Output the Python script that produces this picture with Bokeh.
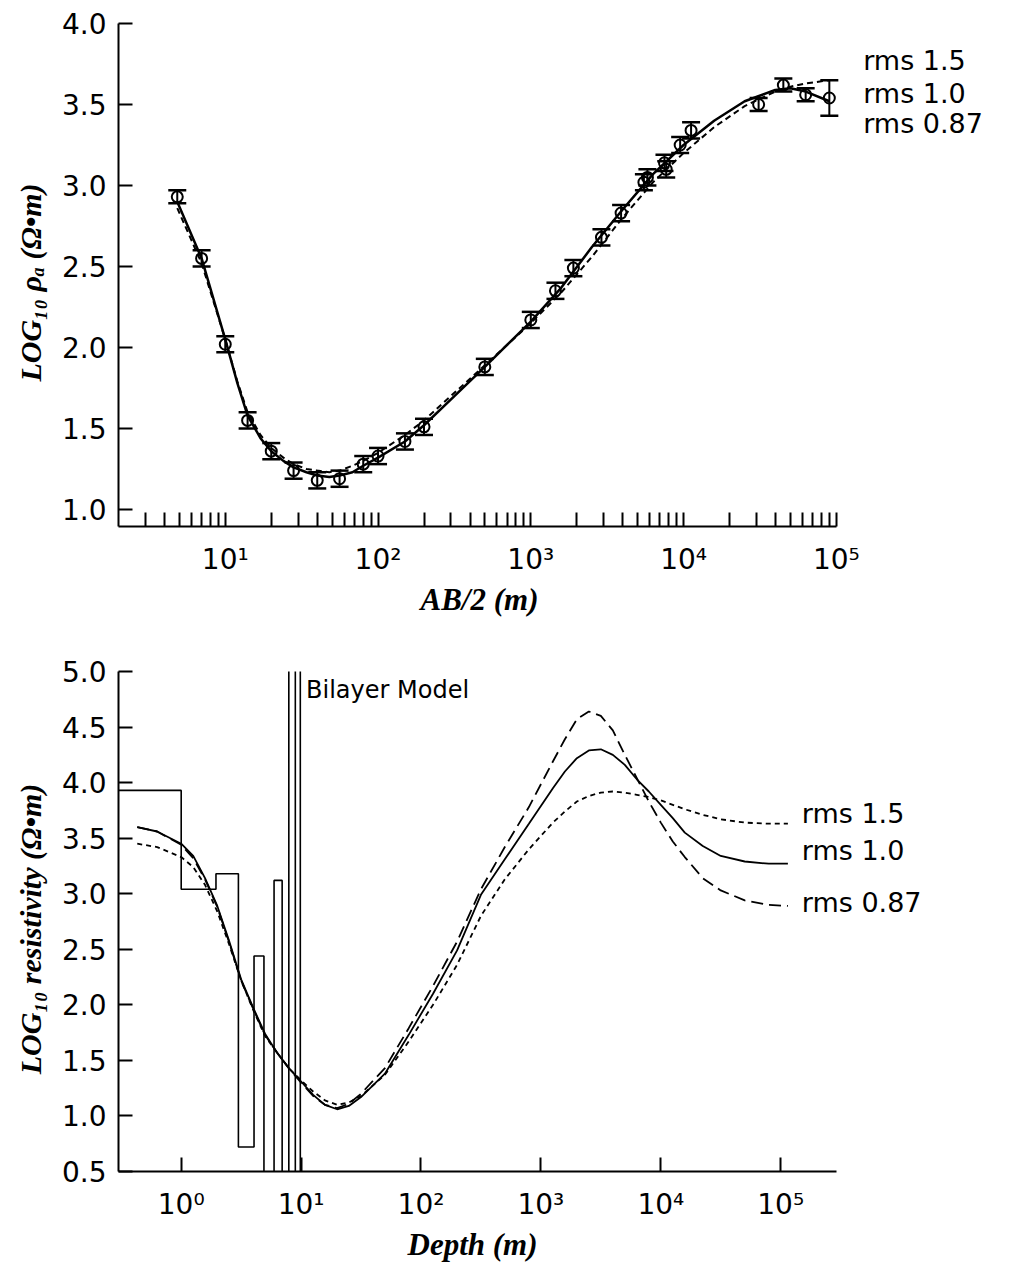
from bokeh.plotting import figure
from bokeh.layouts import column
from bokeh.models import (ColumnDataSource, Whisker, TeeHead, Label, Range1d, Title,
                          FixedTicker, PrintfTickFormatter, CustomJSTickFormatter)
from bokeh.embed import file_html
from bokeh.resources import INLINE

# ---- top panel: apparent resistivity sounding ----
ab2 = [4.85, 7.0, 10, 14, 20, 28, 40, 56, 80, 100, 150, 200, 500, 1000, 1450, 1900,
       2900, 3900, 5500, 5800, 7500, 7700, 9500, 11200, 31000, 45000, 63000, 90000]
rho_a = [2.93, 2.55, 2.02, 1.55, 1.36, 1.24, 1.18, 1.19, 1.28, 1.33, 1.42, 1.51, 1.88, 2.17,
         2.35, 2.49, 2.68, 2.83, 3.02, 3.05, 3.14, 3.10, 3.25, 3.34, 3.50, 3.62, 3.56, 3.54]
rho_err = [0.04, 0.05, 0.05, 0.05, 0.05, 0.05, 0.05, 0.05, 0.05, 0.05, 0.05, 0.05, 0.05, 0.05,
           0.05, 0.05, 0.05, 0.05, 0.05, 0.05, 0.05, 0.05, 0.05, 0.05, 0.04, 0.04, 0.04, 0.11]

ab2_fit = [4.85, 7.0, 10, 12, 14, 17, 20, 24, 28, 34, 40, 48, 56, 68, 80, 100, 150, 200, 316,
           500, 1000, 1585, 2512, 3981, 6310, 10000, 15850, 25120, 39810, 50120, 63100, 90000]
fit_rms10 = [2.90, 2.55, 2.05, 1.78, 1.58, 1.44, 1.36, 1.30, 1.26, 1.23, 1.21, 1.20, 1.21,
             1.23, 1.27, 1.32, 1.42, 1.52, 1.70, 1.88, 2.16, 2.37, 2.62, 2.85, 3.07, 3.25,
             3.40, 3.52, 3.59, 3.60, 3.58, 3.52]
fit_rms15 = [2.86, 2.52, 2.05, 1.79, 1.60, 1.46, 1.38, 1.32, 1.28, 1.25, 1.24, 1.23, 1.24,
             1.27, 1.30, 1.35, 1.46, 1.55, 1.72, 1.89, 2.15, 2.34, 2.56, 2.80, 3.02, 3.20,
             3.36, 3.49, 3.58, 3.61, 3.63, 3.65]

# ---- bottom panel: inverted resistivity vs depth ----
depth = [0.43, 0.63, 1.0, 1.26, 1.58, 2.0, 2.5, 3.16, 4.0, 5.0, 6.3, 7.9, 10, 12.6, 15.8,
         20, 25, 31.6, 50, 79, 126, 200, 316, 500, 794, 1259, 1585, 1995, 2512, 3162, 3981,
         5012, 6310, 7943, 10000, 12590, 15850, 22390, 31620, 50120, 79430, 114800]
res_rms10 = [3.60, 3.56, 3.45, 3.34, 3.14, 2.89, 2.58, 2.23, 1.97, 1.74, 1.57, 1.43, 1.31,
             1.19, 1.10, 1.06, 1.09, 1.17, 1.38, 1.73, 2.10, 2.49, 2.99, 3.31, 3.63, 3.95,
             4.10, 4.22, 4.29, 4.30, 4.25, 4.16, 4.03, 3.92, 3.80, 3.68, 3.55, 3.43, 3.34,
             3.29, 3.27, 3.27]
res_rms087 = [3.60, 3.56, 3.44, 3.32, 3.13, 2.88, 2.57, 2.22, 1.96, 1.73, 1.57, 1.43, 1.30,
              1.18, 1.10, 1.07, 1.11, 1.20, 1.43, 1.79, 2.17, 2.57, 3.04, 3.42, 3.78, 4.19,
              4.39, 4.57, 4.64, 4.60, 4.47, 4.25, 4.04, 3.83, 3.64, 3.47, 3.33, 3.14, 3.03,
              2.94, 2.90, 2.89]
res_rms15 = [3.45, 3.42, 3.33, 3.24, 3.08, 2.84, 2.55, 2.22, 1.95, 1.72, 1.57, 1.43, 1.32,
             1.22, 1.14, 1.10, 1.12, 1.18, 1.37, 1.67, 2.00, 2.36, 2.80, 3.13, 3.40, 3.64,
             3.74, 3.83, 3.88, 3.91, 3.92, 3.91, 3.89, 3.87, 3.84, 3.80, 3.76, 3.71, 3.67,
             3.64, 3.63, 3.63]

# bilayer model: depth of layer tops and log10 resistivity (off-scale layers clipped)
layer_top = [0.1, 1.0, 1.95, 3.0, 4.05, 4.9, 5.95, 6.95, 7.9, 8.95, 9.85, 1000]
layer_res = [3.93, 3.04, 3.18, 0.72, 2.44, 0.0, 3.12, 0.0, 6.0, 0.0, 6.0, 6.0]

rms_labels = ["rms  1.5", "rms  1.0", "rms  0.87"]

TICK_FONT = "DejaVu Sans"
SUP = CustomJSTickFormatter(code="""
const s = {'0':'\u2070','1':'\u00b9','2':'\u00b2','3':'\u00b3','4':'\u2074','5':'\u2075'};
const e = Math.round(Math.log10(tick));
return '10' + s[String(e)];
""")


def style(p, xmajor, xminor, yticks, xbounds, xlabel, xoffset, ylabel):
    p.outline_line_color = None
    p.grid.grid_line_color = None
    for ax in (p.xaxis, p.yaxis):
        ax.axis_line_width = 2
        ax.major_tick_line_width = 2
        ax.minor_tick_line_width = 2
        ax.major_tick_in = 14
        ax.major_tick_out = 0
        ax.minor_tick_in = 14
        ax.minor_tick_out = 0
        ax.major_label_text_font = TICK_FONT
        ax.major_label_text_font_size = "28px"
        ax.major_label_text_color = "black"
        ax.axis_label_text_font = "Liberation Serif"
        ax.axis_label_text_font_style = "bold italic"
        ax.axis_label_text_font_size = "30px"
        ax.axis_label_text_color = "black"
    p.xaxis.ticker = FixedTicker(ticks=xmajor, minor_ticks=xminor)
    p.xaxis.formatter = SUP
    p.xaxis.bounds = xbounds
    p.xaxis.major_label_standoff = 16
    p.yaxis.ticker = FixedTicker(ticks=yticks)
    p.yaxis.formatter = PrintfTickFormatter(format="%.1f")
    p.yaxis.major_label_standoff = 12
    p.yaxis.axis_label_standoff = 12
    p.yaxis.axis_label = ylabel
    # x label centred under the axis line, not under the wider frame
    p.add_layout(Title(text=xlabel, align="left", offset=xoffset, standoff=2,
                       text_font="Liberation Serif", text_font_style="bold italic",
                       text_font_size="31px", text_color="black"), "below")


# ---------------- top ----------------
p1 = figure(width=1008, height=638, x_axis_type="log",
            x_range=Range1d(2, 1.34e6), y_range=Range1d(0.895, 4.0),
            output_backend="svg", toolbar_location=None,
            min_border_left=114, min_border_right=0, min_border_top=23, min_border_bottom=112)

minor1 = [m * 10 ** k for k in range(0, 5) for m in range(2, 10) if m * 10 ** k >= 3]
style(p1, [10, 100, 1000, 10000, 100000], minor1, [1.0, 1.5, 2.0, 2.5, 3.0, 3.5, 4.0],
      (2, 100000), "AB/2 (m)", 302, "LOG\u2081\u2080  \u03c1\u2090  (\u03a9\u2022m)")

p1.line(ab2_fit, fit_rms10, line_color="black", line_width=2.5)
p1.line(ab2_fit, fit_rms15, line_color="black", line_width=2, line_dash="6 4")

src = ColumnDataSource(data=dict(
    x=ab2, y=rho_a,
    upper=[v + e for v, e in zip(rho_a, rho_err)],
    lower=[v - e for v, e in zip(rho_a, rho_err)]))
p1.add_layout(Whisker(base="x", upper="upper", lower="lower", source=src, dimension="height",
                      line_color="black", line_width=2,
                      upper_head=TeeHead(size=18, line_width=2.5, line_color="black"),
                      lower_head=TeeHead(size=18, line_width=2.5, line_color="black")))
p1.scatter("x", "y", source=src, size=11, marker="circle", fill_alpha=0,
           line_color="black", line_width=2)

for txt, yy in zip(rms_labels, [3.77, 3.57, 3.38]):
    p1.add_layout(Label(x=1.5e5, y=yy, text=txt, text_font=TICK_FONT, text_color="black",
                        text_font_size="27px", text_baseline="middle"))

# ---------------- bottom ----------------
p2 = figure(width=1008, height=628, x_axis_type="log",
            x_range=Range1d(0.3, 7.94e6), y_range=Range1d(0.5, 5.0),
            output_backend="svg", toolbar_location=None,
            min_border_left=118, min_border_right=0, min_border_top=33, min_border_bottom=95)

style(p2, [1, 10, 100, 1000, 10000, 100000], [],
      [0.5, 1.0, 1.5, 2.0, 2.5, 3.0, 3.5, 4.0, 4.5, 5.0], (0.3, 2.93e5),
      "Depth (m)", 289, "LOG\u2081\u2080  resistivity  (\u03a9\u2022m)")

p2.step(layer_top, layer_res, mode="after", line_color="black", line_width=1.6)
p2.line(depth, res_rms15, line_color="black", line_width=1.8, line_dash="5 4")
p2.line(depth, res_rms087, line_color="black", line_width=1.8, line_dash="12 6")
p2.line(depth, res_rms10, line_color="black", line_width=1.8)

p2.add_layout(Label(x=11, y=4.83, text="Bilayer  Model", text_font=TICK_FONT,
                    text_color="black", text_font_size="24px", text_baseline="middle"))
for txt, yy in zip(rms_labels, [3.72, 3.39, 2.92]):
    p2.add_layout(Label(x=1.5e5, y=yy, text=txt, text_font=TICK_FONT, text_color="black",
                        text_font_size="27px", text_baseline="middle"))

layout = column(p1, p2)
open("out.html", "w").write(file_html(layout, INLINE))
